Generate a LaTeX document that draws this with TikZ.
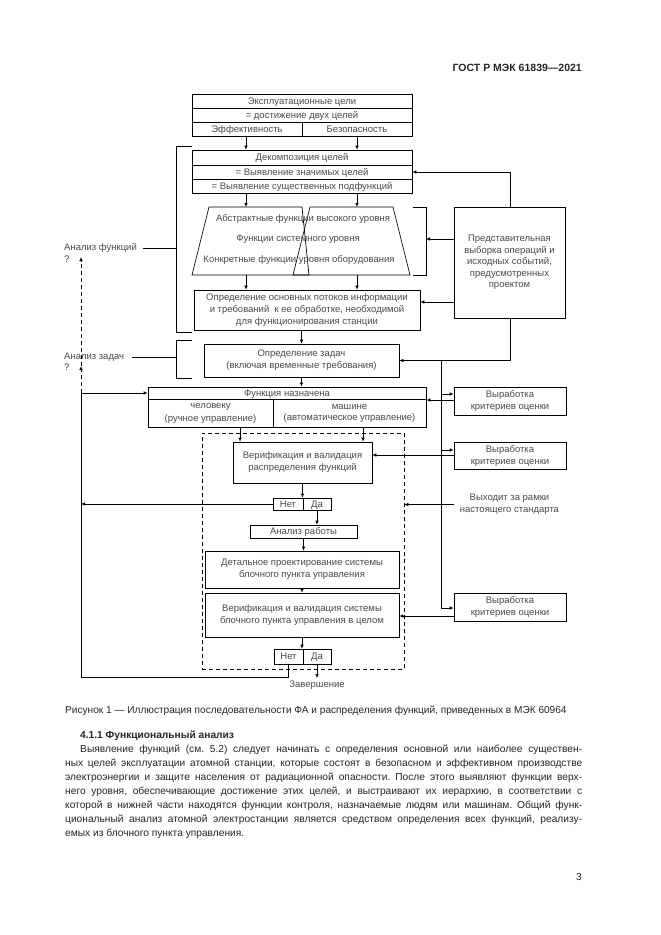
\documentclass[tikz,border=0pt]{standalone}
\usepackage{fontspec}
\setmainfont{Liberation Sans}
\usetikzlibrary{arrows.meta}
\definecolor{txt}{HTML}{4A4A4A}
\definecolor{bodytxt}{HTML}{262626}
\newcommand{\mybox}[6]{\node[boxst, minimum width={#4-#2}, minimum height={#5-#3}] (#1) at ({(#2+#4)/2},{(#3+#5)/2}) {#6};}
\newcommand{\myrowbox}[6]{\node[boxst, rowtxt, minimum width={#4-#2}, minimum height={#5-#3}] (#1) at ({(#2+#4)/2},{(#3+#5)/2}) {#6};}
\frenchspacing
\begin{document}
\begin{tikzpicture}[x=1pt,y=-1pt,
  boxst/.style={draw, line width=0.7pt, inner sep=0pt, align=center, text=txt, font=\fontsize{9.5}{12}\selectfont},
  rowtxt/.style={text height=8pt, text depth=1.5pt},
  lbl/.style={inner sep=0pt, align=center, text=txt, font=\fontsize{9.5}{12}\selectfont},
  arr/.style={-{Latex[length=4pt,width=3.6pt]}, line width=0.7pt},
  ln/.style={line width=0.7pt},
  dsh/.style={dash pattern=on 4pt off 3pt},
  pagetxt/.style={inner sep=0pt, anchor=west, text=bodytxt, font=\fontsize{10.2}{14}\selectfont}]
\useasboundingbox (0,0) rectangle (661,935);
\fill[white] (0,0) rectangle (661,935);

% page texts
\node[inner sep=0pt, anchor=east, text=bodytxt, font=\bfseries\fontsize{10.5}{12}\selectfont] (hdr) at (582,68) {ГОСТ Р МЭК 61839—2021};

% helper coordinates
\coordinate (cL) at (246,0);
\coordinate (cR) at (357,0);
\coordinate (cRep) at (510,0);
\coordinate (cJ) at (441,0);
\coordinate (cN) at (288,0);
\coordinate (cLft) at (81,0);
\coordinate (tzT) at (0,207);
\coordinate (tzB) at (0,275);
\coordinate (yFlow) at (0,302);
\coordinate (a1) at (0,394);
\coordinate (b1) at (0,400);
\coordinate (a2) at (0,450);
\coordinate (b2) at (0,455);
\coordinate (a3) at (0,608);
\coordinate (b3) at (0,616);
\coordinate (yBot) at (0,677);
\coordinate (q1) at (0,257);
\coordinate (q2) at (0,366);
\coordinate (brR) at (426,239);

% goals
\myrowbox{g1}{192}{94}{412}{108}{Эксплуатационные цели}
\myrowbox{g2}{192}{108}{412}{122}{= достижение двух целей}
\myrowbox{g3a}{192}{122}{302}{136}{Эффективность}
\myrowbox{g3b}{302}{122}{412}{136}{Безопасность}

% decomposition
\myrowbox{dc1}{192}{150}{412}{165}{Декомпозиция целей}
\myrowbox{dc2}{192}{165}{412}{179}{= Выявление значимых целей}
\myrowbox{dc3}{192}{179}{412}{193}{= Выявление существенных подфункций}

% trapezoids
\draw[ln] (209,207) -- (302,207) -- (309,275) -- (192,275) -- cycle;
\draw[ln] (310,207) -- (393,207) -- (410,275) -- (293,275) -- cycle;
\node[lbl] (tz1) at (303,219) {Абстрактные функции высокого уровня};
\node[lbl] (tz2) at (298,239) {Функции системного уровня};
\node[lbl] (tz3) at (299,260) {Конкретные функции уровня оборудования};
\draw[ln] (413,207) -- (426,207) -- (426,275) -- (413,275);

% flows
\mybox{flow}{194}{290}{420}{330}{Определение основных потоков информации\\и требований\ \ к ее обработке, необходимой\\для функционирования станции}

% tasks
\mybox{task}{204}{344}{399}{377}{Определение задач\\(включая временные требования)}

% function allocation
\myrowbox{fah}{148}{387}{426}{399}{Функция назначена}
\mybox{fa2a}{148}{399}{273}{427}{\raisebox{-2.5pt}{\shortstack{человеку\\[1pt](ручное управление)}}}
\mybox{fa2b}{273}{399}{426}{427}{\raisebox{-2.5pt}{\shortstack{машине\\[1pt](автоматическое управление)}}}

% dashed region
\node[draw, dsh, line width=0.7pt, minimum width=202, minimum height=236, inner sep=0pt] (dbox) at (303,551) {};

\mybox{ver1}{233}{442}{372}{483}{Верификация и валидация\\распределения функций}
\myrowbox{nd1n}{273}{498}{303}{510}{Нет}
\myrowbox{nd1d}{303}{498}{331}{510}{Да}
\myrowbox{work}{250}{525}{357}{538}{Анализ работы}
\mybox{det}{205}{551}{399}{588}{Детальное проектирование системы\\блочного пункта управления}
\mybox{vs}{205}{593}{399}{637}{Верификация и валидация системы\\блочного пункта управления в целом}
\myrowbox{nd2n}{274}{649}{303}{664}{Нет}
\myrowbox{nd2d}{303}{649}{331}{664}{Да}
\node[lbl, anchor=north] (endtxt) at (317,681) {Завершение};

% right side
\node[boxst, minimum width=111, minimum height=111, font=\fontsize{9.5}{11.6}\selectfont] (rep) at (509.5,262.5) {Представительная\\выборка операций и\\исходных событий,\\предусмотренных\\проектом};
\mybox{vk1}{454}{387}{566}{415}{Выработка\\критериев оценки}
\mybox{vk2}{454}{442}{566}{469}{Выработка\\критериев оценки}
\node[lbl, minimum width=111] (osc) at (509.5,504.5) {Выходит за рамки\\настоящего стандарта};
\mybox{vk3}{454}{593}{566}{621}{Выработка\\критериев оценки}

% left labels and brackets
\draw[ln] (192,146) -- (176,146) coordinate (br1t) -- (176,332) coordinate (br1b) -- (192,332);
\draw[ln] (192,340) -- (176,340) coordinate (br2t) -- (176,378) coordinate (br2b) -- (192,378);
\node[lbl, anchor=west] (af) at (64,248) {Анализ функций};
\node[lbl, anchor=west] (afq) at (64,259.5) {?};
\node[lbl, anchor=west] (az) at (64,357) {Анализ задач};
\node[lbl, anchor=west] (azq) at (64,367) {?};
\draw[ln] ([xshift=6pt]af.east) -- (af.east -| br1t);
\draw[ln] ([xshift=8pt]az.east) -- (az.east -| br2t);

% main flow arrows
\draw[arr] (cL |- g3a.south) -- (cL |- dc1.north);
\draw[arr] (cR |- g3b.south) -- (cR |- dc1.north);
\draw[arr] (cL |- dc3.south) -- (cL |- tzT);
\draw[arr] (cR |- dc3.south) -- (cR |- tzT);
\draw[arr] (cL |- tzB) -- (cL |- flow.north);
\draw[arr] (cR |- tzB) -- (cR |- flow.north);
\draw[arr] (flow.south -| task.north) -- (task.north);
\draw[arr] (task.south) -- (task.south |- fah.north);
\draw[arr] (fa2a.south -| 240,0) -- (ver1.north -| 240,0);
\draw[arr] (fa2b.south -| 363,0) -- (ver1.north -| 363,0);
\draw[arr] (ver1.south) -- (ver1.south |- nd1n.north);
\draw[arr] (nd1d.south) -- (nd1d.south |- work.north);
\draw[arr] (work.south) -- (work.south |- det.north);
\draw[arr] (det.south) -- (det.south |- vs.north);
\draw[arr] (vs.south) -- (vs.south |- nd2n.north);
\draw[arr] (nd2d.south) -- ([yshift=3pt]nd2d.south |- endtxt.north);

% feedback on the left
\draw[ln] (cN |- nd2n.south) -- (cN |- yBot) -- (cLft |- yBot) -- (cLft |- fah.west);
\draw[arr] (cLft |- fah.west) -- (fah.west);
\draw[arr] (nd1n.west) -- (cLft |- nd1n.west);
\draw[arr, dsh] (cLft |- fah.west) -- (cLft |- q2);
\draw[arr, dsh] (cLft |- q2) -- (cLft |- q1);

% representative sample connectors
\draw[arr] (cRep |- rep.north) -- (cRep |- dc2.east) -- (dc2.east);
\draw[arr] (rep.west |- brR) -- (brR);
\draw[arr] (rep.west |- yFlow) -- (flow.east |- yFlow);
\draw[arr] (cRep |- rep.south) -- (cRep |- task.east) -- (task.east);
\draw[ln] (cJ |- task.east) -- (cJ |- a3);
\draw[arr] (cJ |- a1) -- (vk1.west |- a1);
\draw[arr] (cJ |- a2) -- (vk2.west |- a2);
\draw[arr] (cJ |- a3) -- (vk3.west |- a3);
\draw[arr] (vk1.west |- b1) -- (fa2b.east |- b1);
\draw[arr] (vk2.west |- b2) -- (ver1.east |- b2);
\draw[arr] (osc.west) -- (dbox.east |- osc.west);
\draw[arr] (vk3.west |- b3) -- (vs.east |- b3);

% caption and body text
\node[pagetxt, font=\fontsize{10.1}{12}\selectfont] (cap) at (65,711) {Рисунок 1 — Иллюстрация последовательности ФА и распределения функций, приведенных в МЭК 60964};
\node[pagetxt, font=\bfseries\fontsize{10.2}{14}\selectfont] (h411) at (80,736) {4.1.1 Функциональный анализ};
\node[pagetxt] (p1) at (80,750) {\makebox[502pt][s]{Выявление функций (см. 5.2) следует начинать с определения основной или наиболее существен-}};
\node[pagetxt] (p2) at (65,764) {\makebox[517pt][s]{ных целей эксплуатации атомной станции, которые состоят в безопасном и эффективном производстве}};
\node[pagetxt] (p3) at (65,778) {\makebox[517pt][s]{электроэнергии и защите населения от радиационной опасности. После этого выявляют функции верх-}};
\node[pagetxt] (p4) at (65,792) {\makebox[517pt][s]{него уровня, обеспечивающие достижение этих целей, и выстраивают их иерархию, в соответствии с}};
\node[pagetxt] (p5) at (65,806) {\makebox[517pt][s]{которой в нижней части находятся функции контроля, назначаемые людям или машинам. Общий функ-}};
\node[pagetxt] (p6) at (65,820) {\makebox[517pt][s]{циональный анализ атомной электростанции является средством определения всех функций, реализу-}};
\node[pagetxt] (p7) at (65,834) {емых из блочного пункта управления.};
\node[pagetxt, anchor=east] (pg) at (582,877) {3};
\end{tikzpicture}
\end{document}
